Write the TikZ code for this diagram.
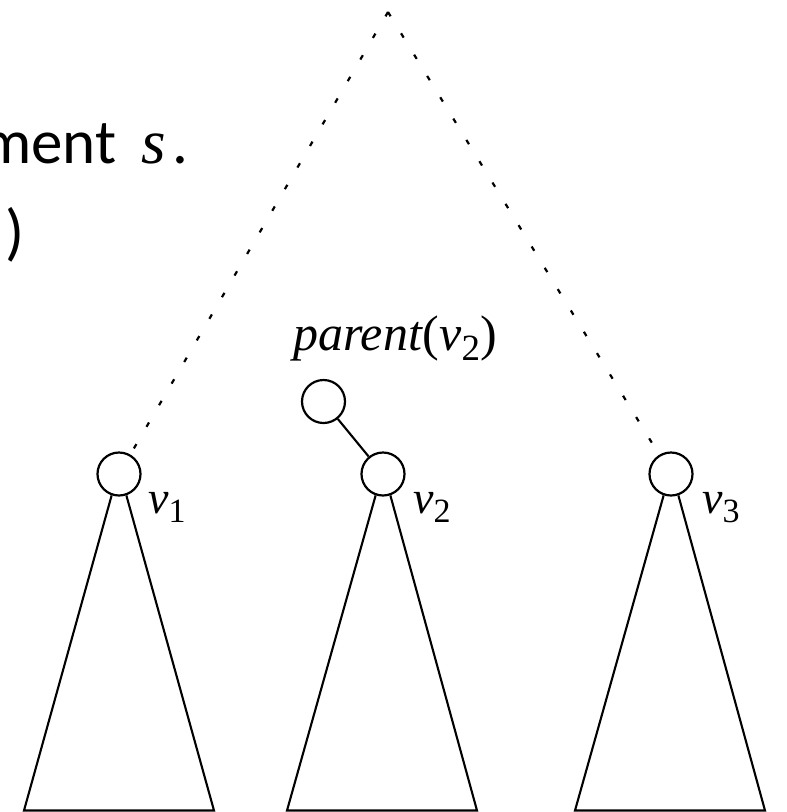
\documentclass[tikz,border=0pt]{standalone}
\usepackage{fontspec}
\setmainfont{Liberation Serif}
\newfontfamily\calibrifont{Carlito}
\begin{document}
\begin{tikzpicture}[x=1pt,y=-1pt,
  treenode/.style={circle,draw,line width=2.2pt,minimum size=43pt,inner sep=0pt},
  edgeline/.style={line width=2.1pt},
  dotline/.style={line width=2.2pt,dash pattern=on 5pt off 20pt},
  lbl/.style={inner sep=0pt,anchor=base west,font=\fontsize{46}{50}\selectfont},
  plbl/.style={inner sep=0pt,anchor=base west,font=\fontsize{50}{54}\selectfont},
  slide/.style={inner sep=0pt,anchor=base west,font=\calibrifont\fontsize{63}{70}\selectfont}]
\useasboundingbox (0,0) rectangle (787,812);
% slide text fragments
\node[slide] (t1) at (-19,163) {ment\hspace{25pt}{\rmfamily\itshape s}\hspace{6pt}.};
\node[slide] (t2) at (5,253) {)};
% nodes
\coordinate (apex) at (388,12);
\node[treenode] (v1) at (119,474) {};
\node[treenode] (v2) at (383,474) {};
\node[treenode] (v3) at (671,474) {};
\node[treenode] (p) at (323.5,401.5) {};
% labels
\node[lbl] (l1) at (148,513) {\textit{v}\raisebox{-0.2em}{\fontsize{34}{34}\selectfont 1}};
\node[lbl] (l2) at (413,513) {\textit{v}\raisebox{-0.2em}{\fontsize{34}{34}\selectfont 2}};
\node[lbl] (l3) at (702,513) {\textit{v}\raisebox{-0.2em}{\fontsize{34}{34}\selectfont 3}};
\node[plbl] (lp) at (293,350) {\textit{parent}(\textit{v}\raisebox{-0.2em}{\fontsize{37}{37}\selectfont 2})};
% dotted lines
\draw[dotline] (apex) -- (v1);
\draw[dotline] (apex) -- (v3);
% parent edge
\draw[edgeline] (p) -- (v2);
% subtrees
\coordinate (b1l) at (24,810.5);  \coordinate (b1r) at (214,810.5);
\coordinate (b2l) at (287,810.5); \coordinate (b2r) at (477,810.5);
\coordinate (b3l) at (575,810.5); \coordinate (b3r) at (765,810.5);
\draw[edgeline,line join=miter] (v1.251) -- (b1l) -- (b1r) -- (v1.289);
\draw[edgeline,line join=miter] (v2.251) -- (b2l) -- (b2r) -- (v2.289);
\draw[edgeline,line join=miter] (v3.251) -- (b3l) -- (b3r) -- (v3.289);
\end{tikzpicture}
\end{document}
